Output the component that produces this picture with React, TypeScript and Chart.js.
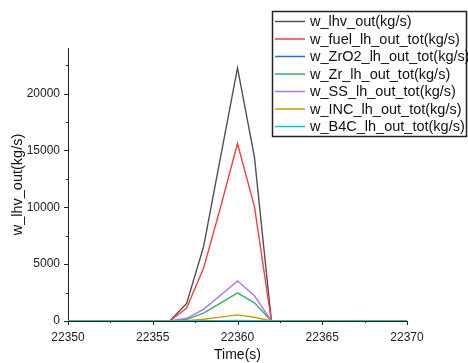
import React, { useEffect, useRef } from "react";
import { Chart, registerables } from "chart.js";

Chart.register(...registerables);

const times = [22350, 22351, 22352, 22353, 22354, 22355, 22356, 22357, 22358, 22359, 22360, 22361, 22362, 22363, 22364, 22365, 22366, 22367, 22368, 22369, 22370];

const lhvOut = [0, 0, 0, 0, 0, 0, 0, 1550, 6550, 14400, 22250, 14400, 0, 0, 0, 0, 0, 0, 0, 0, 0];
const fuelOut = [0, 0, 0, 0, 0, 0, 0, 1130, 4650, 10000, 15600, 10050, 0, 0, 0, 0, 0, 0, 0, 0, 0];
const zro2Out = [0, 0, 0, 0, 0, 0, 0, 2, 8, 15, 25, 15, 0, 0, 0, 0, 0, 0, 0, 0, 0];
const zrOut = [0, 0, 0, 0, 0, 0, 0, 140, 700, 1580, 2480, 1600, 0, 0, 0, 0, 0, 0, 0, 0, 0];
const ssOut = [0, 0, 0, 0, 0, 0, 0, 240, 1020, 2270, 3530, 2220, 0, 0, 0, 0, 0, 0, 0, 0, 0];
const incOut = [0, 0, 0, 0, 0, 0, 0, 30, 150, 340, 540, 330, 0, 0, 0, 0, 0, 0, 0, 0, 0];
const b4cOut = [0, 0, 0, 0, 0, 0, 0, 3, 12, 25, 40, 25, 0, 0, 0, 0, 0, 0, 0, 0, 0];

const seriesNames = [
  "w_lhv_out(kg/s)",
  "w_fuel_lh_out_tot(kg/s)",
  "w_ZrO2_lh_out_tot(kg/s)",
  "w_Zr_lh_out_tot(kg/s)",
  "w_SS_lh_out_tot(kg/s)",
  "w_INC_lh_out_tot(kg/s)",
  "w_B4C_lh_out_tot(kg/s)",
];
const seriesValues = [lhvOut, fuelOut, zro2Out, zrOut, ssOut, incOut, b4cOut];
const seriesColors = ["#515151", "#F14040", "#1A6FDF", "#37AD6B", "#B177DE", "#CC9900", "#00CBCC"];

const xTicks = [22350, 22355, 22360, 22365, 22370];
const yTicks = [0, 5000, 10000, 15000, 20000];
const xTitle = "Time(s)";
const yTitle = "w_lhv_out(kg/s)";

const FONT = "'Liberation Sans', Arial, sans-serif";

const decorPlugin = {
  id: "decor",
  afterDraw(chart: any) {
    const ctx = chart.ctx;
    const xs = chart.scales.x;
    const ys = chart.scales.y;
    ctx.save();
    ctx.strokeStyle = "#222";
    ctx.lineWidth = 1;
    for (let v = 22350; v <= 22370 + 0.001; v += 2.5) {
      const px = Math.round(xs.getPixelForValue(v)) + 0.5;
      const major = Math.abs(v % 5) < 0.001;
      const len = major ? 4 : 2;
      ctx.beginPath();
      ctx.moveTo(px, ys.bottom);
      ctx.lineTo(px, ys.bottom + len);
      ctx.stroke();
    }
    for (let v = 0; v <= 24000; v += 2500) {
      const py = Math.round(ys.getPixelForValue(v)) + 0.5;
      const major = v % 5000 === 0;
      const len = major ? 4 : 2;
      ctx.beginPath();
      ctx.moveTo(xs.left, py);
      ctx.lineTo(xs.left - len, py);
      ctx.stroke();
    }
    // legend
    const bx = 272.5, by = 11.5, bw = 194, bh = 125;
    ctx.fillStyle = "#fff";
    ctx.fillRect(bx, by, bw, bh);
    ctx.lineWidth = 1.5;
    ctx.strokeStyle = "#222";
    ctx.strokeRect(bx, by, bw, bh);
    ctx.font = `14.5px ${FONT}`;
    ctx.textBaseline = "middle";
    ctx.textAlign = "left";
    for (let i = 0; i < seriesNames.length; i++) {
      const y = 21.5 + i * 17.5;
      ctx.strokeStyle = seriesColors[i];
      ctx.lineWidth = 1.5;
      ctx.beginPath();
      ctx.moveTo(275, y);
      ctx.lineTo(305, y);
      ctx.stroke();
      ctx.fillStyle = "#111";
      ctx.fillText(seriesNames[i], 310, y + 0.5);
    }
    ctx.restore();
  },
};

export default function App() {
  const ref = useRef<HTMLCanvasElement | null>(null);
  useEffect(() => {
    document.body.style.margin = "0";
    const canvas = ref.current;
    if (!canvas) return;
    const chart = new Chart(canvas, {
      type: "line",
      data: {
        datasets: seriesNames.map((name, i) => ({
          label: name,
          data: times.map((t, j) => ({ x: t, y: seriesValues[i][j] })),
          borderColor: seriesColors[i],
          backgroundColor: seriesColors[i],
          borderWidth: 1.4,
          pointRadius: 0,
          tension: 0,
          fill: false,
          order: seriesNames.length - i,
        })),
      },
      options: {
        responsive: false,
        animation: false,
        events: [],
        layout: { padding: { top: 48, right: 61, left: 0, bottom: 0 } },
        plugins: { legend: { display: false }, tooltip: { enabled: false } },
        scales: {
          x: {
            type: "linear",
            min: 22350,
            max: 22370,
            grid: { display: false, drawTicks: false, tickLength: 0 },
            border: { display: true, color: "#222", width: 1 },
            afterBuildTicks: (s: any) => { s.ticks = xTicks.map((v) => ({ value: v })); },
            afterFit: (s: any) => { s.height = 42; },
            ticks: {
              padding: 9,
              maxRotation: 0,
              color: "#222",
              font: { family: FONT, size: 12 },
              callback: (v: any) => String(v),
            },
            title: {
              display: true,
              text: xTitle,
              color: "#111",
              font: { family: FONT, size: 14 },
              padding: { top: 0, bottom: -1 },
            },
          },
          y: {
            type: "linear",
            min: 0,
            max: 24000,
            grid: { display: false, drawTicks: false, tickLength: 0 },
            border: { display: true, color: "#222", width: 1 },
            afterBuildTicks: (s: any) => { s.ticks = yTicks.map((v) => ({ value: v })); },
            afterFit: (s: any) => { s.width = 68; },
            ticks: {
              padding: 8,
              color: "#222",
              font: { family: FONT, size: 12 },
              callback: (v: any) => String(v),
            },
            title: {
              display: true,
              text: yTitle,
              color: "#111",
              font: { family: FONT, size: 14.5 },
              padding: { top: 9, bottom: 0 },
            },
          },
        },
      },
      plugins: [decorPlugin],
    } as any);
    return () => chart.destroy();
  }, []);
  return (
    <div style={{ position: "absolute", left: 0, top: 0 }}>
      <canvas ref={ref} width={468} height={363} style={{ display: "block", width: 468, height: 363 }} />
    </div>
  );
}
